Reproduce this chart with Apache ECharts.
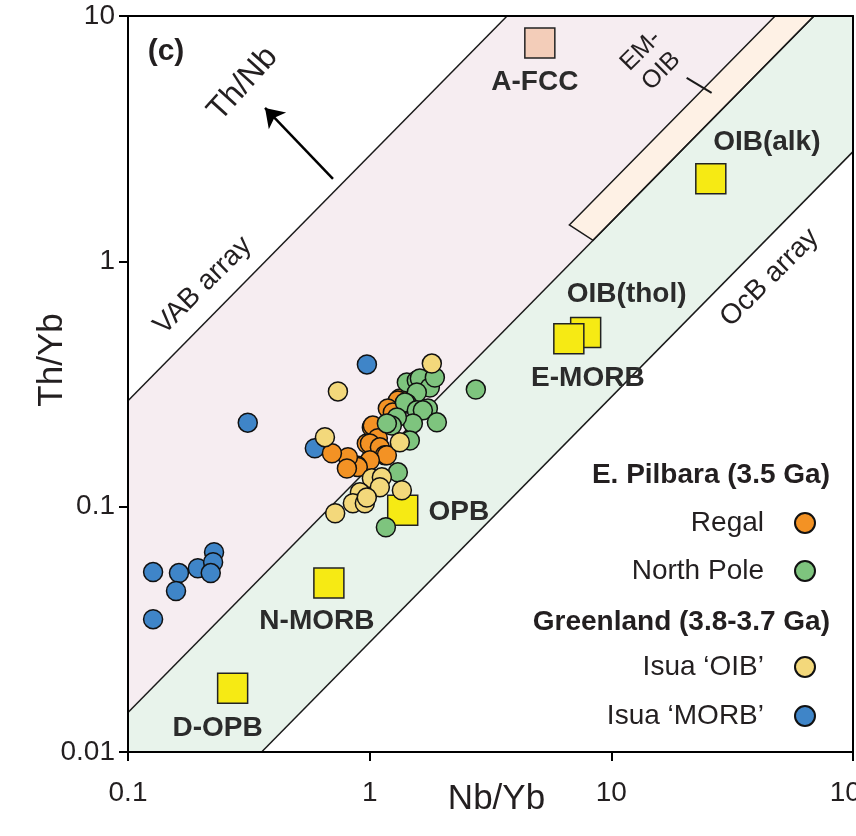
<!DOCTYPE html>
<html><head><meta charset="utf-8">
<script src="https://cdn.jsdelivr.net/npm/echarts@6/dist/echarts.min.js"></script>
<style>html,body{margin:0;padding:0;background:#fff}#c{width:856px;height:836px}</style>
</head><body><div id="c"></div>
<script>
// ---- data (Nb/Yb, Th/Yb) ----
const regal = [[1.333,0.276],[1.308,0.271],[1.212,0.247],[1.189,0.2515],[1.247,0.242],[1.021,0.210],[1.03,0.214],[1.081,0.190],[0.973,0.181],[1.002,0.181],[1.102,0.1745],[1.156,0.162],[1.178,0.162],[1.002,0.1545],[0.885,0.147],[0.893,0.145],[0.813,0.159],[0.805,0.143],[0.698,0.165]];
const northPole = [[2.75,0.300],[1.425,0.321],[1.567,0.327],[1.613,0.333],[1.774,0.306],[1.861,0.336],[1.567,0.292],[1.425,0.2635],[1.399,0.266],[1.741,0.2515],[1.567,0.247],[1.660,0.247],[1.897,0.2206],[1.509,0.2185],[1.296,0.231],[1.235,0.214],[1.466,0.186],[1.178,0.2185],[1.308,0.138],[1.167,0.0824]];
const isuaOIB = [[1.808,0.383],[0.739,0.295],[0.653,0.192],[1.333,0.183],[1.021,0.1305],[1.123,0.1317],[1.102,0.120],[0.911,0.1144],[1.359,0.1166],[0.852,0.1032],[0.955,0.1032],[0.72,0.094],[0.973,0.109]];
const isuaMORB = [[0.313,0.220],[0.127,0.0541],[0.1625,0.0536],[0.158,0.0453],[0.127,0.0348],[0.1945,0.0561],[0.227,0.0652],[0.225,0.0594],[0.220,0.0536],[0.974,0.380],[0.593,0.173]];
const refNames = ['A-FCC','OIB(alk)','OIB(thol)','E-MORB','OPB','N-MORB','D-OPB'];
const refX = [5.06, 25.8, 7.83, 6.67, 1.37, 0.678, 0.271];
const refY = [7.76, 2.17, 0.513, 0.484, 0.0966, 0.0488, 0.0182];
// array boundaries as Th/Nb ratios (Th/Yb = ratio * Nb/Yb)
const ratioVABtop = 2.7, ratioMid = 0.145, ratioOcB = 0.028, ratioEMtop = 0.21;
const emStartTop = 6.7, emStartLow = 8.4;
const xTicks = [0.1, 1, 10, 100];
const yTicks = [0.01, 0.1, 1, 10];
// ---- end data ----

const F = '"Liberation Sans", Arial, Helvetica, sans-serif';
const TXT = '#231f20';
const xmin = xTicks[0], xmax = xTicks[xTicks.length-1];
const ymin = yTicks[0], ymax = yTicks[yTicks.length-1];

const polygons = [
  {fill:'#f6edf1', pts:[[xmin,xmin*ratioVABtop],[ymax/ratioVABtop,ymax],[ymax/ratioMid,ymax],[xmin,xmin*ratioMid]]},
  {fill:'#e8f3eb', pts:[[xmin,xmin*ratioMid],[ymax/ratioMid,ymax],[xmax,ymax],[xmax,xmax*ratioOcB],[ymin/ratioOcB,ymin],[xmin,ymin]]},
  {fill:'#fef1e5', stroke:'#1a1a1a', pts:[[emStartTop,emStartTop*ratioEMtop],[ymax/ratioEMtop,ymax],[ymax/ratioMid,ymax],[emStartLow,emStartLow*ratioMid]]}
];
const boundaryLines = [
  [[xmin,xmin*ratioVABtop],[ymax/ratioVABtop,ymax]],
  [[xmin,xmin*ratioMid],[ymax/ratioMid,ymax]],
  [[ymin/ratioOcB,ymin],[xmax,xmax*ratioOcB]]
];

const refColors = refNames.map(n => n === 'A-FCC' ? '#f3cdb9' : '#f6ea14');
const refLabel = {
  'A-FCC':{position:'bottom',distance:10,offset:[-5,0]},
  'OIB(alk)':{position:'top',distance:7,offset:[56,0]},
  'OIB(thol)':{position:'top',distance:8,offset:[41,0]},
  'E-MORB':{position:'bottom',distance:10,offset:[19,0]},
  'OPB':{position:'right',distance:10,offset:[0,2]},
  'N-MORB':{position:'bottom',distance:8,offset:[-12,0]},
  'D-OPB':{position:'bottom',distance:10,offset:[-15,0]}
};

const annotations = [
  {text:'VAB array', x:0.204, y:0.796, size:28, rot:45},
  {text:'OcB array', x:45.2, y:0.858, size:28, rot:45},
  {text:'Th/Nb', x:0.299, y:5.28, size:32, rot:48},
  {text:'EM-\nOIB', x:14.6, y:6.56, size:25, rot:45}
];

const circle = (name, data, color, z) => ({
  name, type:'scatter', data, symbol:'circle', symbolSize:19, z,
  itemStyle:{color, borderColor:'#111', borderWidth:1.5, opacity:1}
});

const series = [
  {type:'custom', silent:true, z:1, data: polygons.map(()=>[1,1]),
   renderItem:(params, api) => {
     const p = polygons[params.dataIndex];
     return {type:'polygon', shape:{points:p.pts.map(q=>api.coord(q))},
       style:{fill:p.fill, stroke:p.stroke||null, lineWidth:1.5}};
   }}
];
boundaryLines.forEach(l => series.push({type:'line', data:l, symbol:'none', silent:true, z:2,
  lineStyle:{color:'#1a1a1a', width:1.5}}));
series.push({type:'line', data:[[20.5,5.6],[26.0,4.86]], symbol:'none', silent:true, z:3,
  lineStyle:{color:'#1a1a1a', width:2}});
series.push({type:'scatter', data:[], silent:true, z:3,
  markLine:{silent:true, symbol:['none','arrow'], symbolSize:18, label:{show:false},
    lineStyle:{color:'#000', width:2.5, type:'solid', opacity:1},
    data:[[{coord:[0.705,2.17]},{coord:[0.369,4.22]}]]}});
series.push({type:'scatter', silent:true, z:4, symbolSize:0, itemStyle:{opacity:1},
  data: annotations.map(a => ({value:[a.x,a.y], label:{show:true, position:'inside', formatter:a.text,
    rotate:a.rot, fontSize:a.size, fontFamily:F, color:TXT, opacity:1, lineHeight:a.size+4}}))});
series.push({name:'ref', type:'scatter', symbol:'rect', symbolSize:30, z:5,
  data: refNames.map((n,i)=>({value:[refX[i],refY[i]], itemStyle:{color:refColors[i]},
    label:Object.assign({show:true, formatter:n, fontSize:28, fontWeight:'bold', fontFamily:F, color:'#2b2b2b', opacity:1}, refLabel[n])})),
  itemStyle:{borderColor:'#222', borderWidth:1.5, opacity:1}});
series.push(circle('Isua ‘MORB’', isuaMORB, '#3f85c8', 6));
series.push(circle('Regal', regal, '#f39224', 7));
series.push(circle('North Pole', northPole, '#7ec47e', 8));
series.push(circle('Isua ‘OIB’', isuaOIB, '#f3d87b', 9));

const axisCommon = {
  type:'log', logBase:10, z:10,
  axisLine:{show:true, lineStyle:{color:'#000', width:2}},
  axisTick:{show:true, length:9, lineStyle:{color:'#000', width:2}},
  minorTick:{show:false}, splitLine:{show:false}
};
const legendCommon = {
  orient:'vertical', right:40, align:'right', itemWidth:72, itemHeight:20, padding:0,
  icon:'circle', selectedMode:false,
  textStyle:{fontSize:28, fontFamily:F, color:TXT, lineHeight:30}
};

const chart = echarts.init(document.getElementById('c'), null, {renderer:'canvas'});
chart.setOption({
  animation:false,
  backgroundColor:'#fff',
  grid:{left:128, right:3, top:16, bottom:84, show:false, containLabel:false, outerBoundsMode:'none'},
  xAxis:[Object.assign({}, axisCommon, {min:xmin, max:xmax, position:'bottom',
    axisLabel:{fontSize:28, fontFamily:F, color:TXT, margin:27},
    name:'Nb/Yb', nameLocation:'middle', nameGap:30, nameMoveOverlap:false,
    nameTextStyle:{fontSize:35, fontFamily:F, color:TXT, padding:[0,0,0,12]}}),
    Object.assign({}, axisCommon, {min:xmin, max:xmax, position:'top', axisTick:{show:false}, axisLabel:{show:false}})],
  yAxis:[Object.assign({}, axisCommon, {min:ymin, max:ymax, position:'left',
    axisLabel:{fontSize:28, fontFamily:F, color:TXT, margin:13}}),
    Object.assign({}, axisCommon, {min:ymin, max:ymax, position:'right', axisTick:{show:false}, axisLabel:{show:false}})],
  legend:[
    Object.assign({}, legendCommon, {data:['Regal','North Pole'], top:508, itemGap:18}),
    Object.assign({}, legendCommon, {data:['Isua ‘OIB’','Isua ‘MORB’'], top:652, itemGap:19})
  ],
  graphic:[
    {type:'text', x:52, y:360, rotation:Math.PI/2, style:{text:'Th/Yb', font:'35px '+F, fill:TXT, align:'center', verticalAlign:'middle'}},
    {type:'text', x:166, y:52, style:{text:'(c)', font:'bold 30px '+F, fill:TXT, align:'center', verticalAlign:'middle'}},
    {type:'text', x:830, y:475, style:{text:'E. Pilbara (3.5 Ga)', font:'bold 28px '+F, fill:TXT, align:'right', verticalAlign:'middle'}},
    {type:'text', x:830, y:622, style:{text:'Greenland (3.8-3.7 Ga)', font:'bold 28px '+F, fill:TXT, align:'right', verticalAlign:'middle'}}
  ],
  series
});
</script></body></html>
